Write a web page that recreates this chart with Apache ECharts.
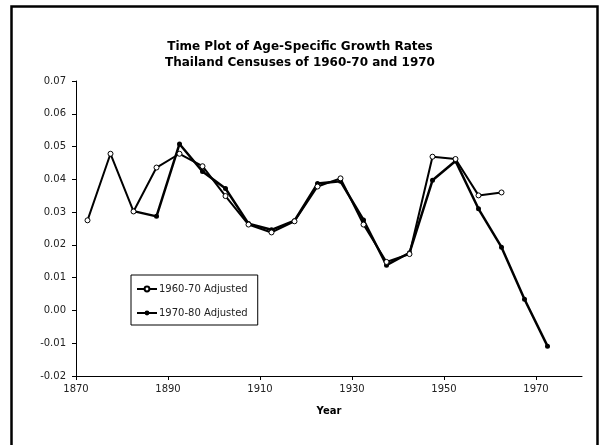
<!DOCTYPE html>
<html>
<head>
<meta charset="utf-8">
<script src="https://cdn.jsdelivr.net/npm/echarts@6/dist/echarts.min.js"></script>
<style>
  html, body { margin: 0; padding: 0; background: #fff; }
  #chart { width: 600px; height: 445px; }
</style>
</head>
<body>
<div id="chart"></div>
<script>
// age-group mid years (x)
const years60 = [1872.5, 1877.5, 1882.5, 1887.5, 1892.5, 1897.5, 1902.5, 1907.5, 1912.5, 1917.5,
  1922.5, 1927.5, 1932.5, 1937.5, 1942.5, 1947.5, 1952.5, 1957.5, 1962.5];
const rates60 = [0.0275, 0.0478, 0.0302, 0.0436, 0.0478, 0.0440, 0.0349, 0.0262, 0.0238, 0.0272,
  0.0378, 0.0403, 0.0262, 0.0148, 0.0172, 0.0469, 0.0462, 0.0351, 0.0360];

const years70 = [1882.5, 1887.5, 1892.5, 1897.5, 1902.5, 1907.5, 1912.5, 1917.5, 1922.5, 1927.5,
  1932.5, 1937.5, 1942.5, 1947.5, 1952.5, 1957.5, 1962.5, 1967.5, 1972.5];
const rates70 = [0.0303, 0.0287, 0.0508, 0.0424, 0.0372, 0.0265, 0.0246, 0.0274, 0.0387, 0.0394,
  0.0276, 0.0138, 0.0176, 0.0397, 0.0456, 0.0310, 0.0193, 0.0034, -0.0109];

const xTicks = [1870, 1890, 1910, 1930, 1950, 1970];

const seriesNames = ['1960-70 Adjusted', '1970-80 Adjusted'];

const font = 'DejaVu Sans';
const zip = (xs, ys) => xs.map((x, i) => [x, ys[i]]);

const chart = echarts.init(document.getElementById('chart'));

chart.setOption({
  animation: false,
  backgroundColor: '#fff',
  textStyle: { fontFamily: font },
  title: {
    text: 'Time Plot of Age-Specific Growth Rates\nThailand Censuses of 1960-70 and 1970',
    left: 'center',
    top: 34,
    textStyle: { fontSize: 12, fontWeight: 'bold', color: '#000', lineHeight: 16, fontFamily: font }
  },
  legend: {
    orient: 'vertical',
    left: 131,
    top: 275,
    padding: [9, 10, 7, 5],
    itemGap: 14,
    itemWidth: 20,
    itemHeight: 6,
    backgroundColor: '#fff',
    borderColor: '#000',
    borderWidth: 1,
    borderRadius: 0,
    textStyle: { fontSize: 10, color: '#222', fontFamily: font, padding: [0, 0, 0, -3] },
    data: seriesNames
  },
  grid: { left: 76, right: 18, top: 81, bottom: 69 },
  xAxis: {
    type: 'value',
    min: 1870,
    max: 1980,
    interval: 20,
    name: 'Year',
    nameLocation: 'middle',
    nameGap: 30,
    nameTextStyle: { fontSize: 10, fontWeight: 'bold', color: '#000', fontFamily: font },
    axisLine: { onZero: false, lineStyle: { color: '#000', width: 1 } },
    axisTick: { length: 4, lineStyle: { color: '#000' }, customValues: xTicks },
    axisLabel: { fontSize: 10, color: '#222', margin: 8, customValues: xTicks, formatter: v => String(v) },
    splitLine: { show: false }
  },
  yAxis: {
    type: 'value',
    min: -0.02,
    max: 0.07,
    interval: 0.01,
    axisLine: { show: true, lineStyle: { color: '#000', width: 1 } },
    axisTick: { show: true, length: 4, lineStyle: { color: '#000' } },
    axisLabel: {
      fontSize: 10, color: '#222', margin: 10,
      formatter: v => v.toFixed(2)
    },
    splitLine: { show: false }
  },
  series: [
    {
      name: seriesNames[0],
      type: 'line',
      data: zip(years60, rates60),
      symbol: 'circle',
      symbolSize: 5,
      itemStyle: { color: '#fff', borderColor: '#000', borderWidth: 1 },
      lineStyle: { color: '#000', width: 2 },
      z: 3
    },
    {
      name: seriesNames[1],
      type: 'line',
      data: zip(years70, rates70),
      symbol: 'circle',
      symbolSize: 5,
      itemStyle: { color: '#000' },
      lineStyle: { color: '#000', width: 2.5 },
      z: 2
    }
  ],
  graphic: [
    {
      type: 'rect',
      shape: { x: 11.5, y: 6.5, width: 586, height: 460 },
      style: { fill: null, stroke: '#000', lineWidth: 2.5 },
      silent: true
    }
  ]
});
</script>
</body>
</html>
